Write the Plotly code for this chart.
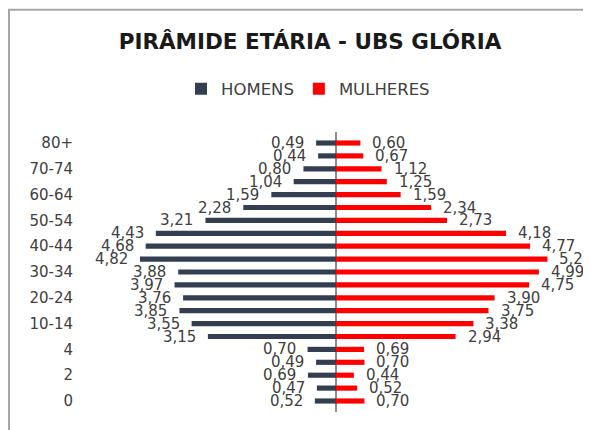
import plotly.graph_objects as go

categories = ["0", "1", "2", "3", "4", "5-9", "10-14", "15-19", "20-24", "25-29",
              "30-34", "35-39", "40-44", "45-49", "50-54", "55-59", "60-64",
              "65-69", "70-74", "75-79", "80+"]
homens = [0.52, 0.47, 0.69, 0.49, 0.70, 3.15, 3.55, 3.85, 3.76, 3.97,
          3.88, 4.82, 4.68, 4.43, 3.21, 2.28, 1.59, 1.04, 0.80, 0.44, 0.49]
mulheres = [0.70, 0.52, 0.44, 0.70, 0.69, 2.94, 3.38, 3.75, 3.90, 4.75,
            4.99, 5.20, 4.77, 4.18, 2.73, 2.34, 1.59, 1.25, 1.12, 0.67, 0.60]
tick_labels = categories[::2]

C_H = "#333F50"
C_M = "#FF0000"
FONT = "DejaVu Sans"

W, H = 591, 430
OFF = 8  # page body margin
L, R_EDGE = 81 - OFF, 591 - OFF
TOP, BOT = 131.7 - OFF, 411.7 - OFF


def fmt(v):
    return f"{v:.2f}".replace(".", ",")


fig = go.Figure()
fig.add_trace(go.Bar(y=categories, x=[-v for v in homens], orientation="h",
                     name="HOMENS", marker=dict(color=C_H, line=dict(width=0)),
                     hoverinfo="skip"))
fig.add_trace(go.Bar(y=categories, x=mulheres, orientation="h",
                     name="MULHERES", marker=dict(color=C_M, line=dict(width=0)),
                     hoverinfo="skip"))

annotations = []
for c, v in zip(categories, homens):
    annotations.append(dict(x=-v, y=c, xref="x", yref="y", text=fmt(v),
                            showarrow=False, xanchor="right", yanchor="middle",
                            xshift=-10, font=dict(family=FONT, size=15, color="#404040")))
for c, v in zip(categories, mulheres):
    annotations.append(dict(x=v, y=c, xref="x", yref="y", text=fmt(v),
                            showarrow=False, xanchor="left", yanchor="middle",
                            xshift=10, font=dict(family=FONT, size=15, color="#404040")))

pw = R_EDGE - L
ph = BOT - TOP

fig.update_layout(
    width=W, height=H,
    margin=dict(l=L, r=W - R_EDGE, t=TOP, b=H - BOT),
    paper_bgcolor="white", plot_bgcolor="white",
    barmode="relative", bargap=0.6,
    title=dict(text="<b>PIRÂMIDE ETÁRIA - UBS GLÓRIA</b>",
               font=dict(family=FONT, size=21.5, color="#1a1a1a"),
               x=(310 - OFF) / W, xref="container", xanchor="center",
               y=1 - (41.5 - OFF) / H, yref="container", yanchor="middle"),
    legend=dict(orientation="h", xref="container", yref="container",
                x=(308 - OFF) / W, xanchor="center", y=1 - (89 - OFF) / H, yanchor="middle",
                font=dict(family=FONT, size=16.5, color="#404040"),
                itemwidth=30, traceorder="normal"),
    xaxis=dict(range=[-6.27, 6.27], showticklabels=False, showgrid=False,
               zeroline=True, zerolinecolor="#8C8C8C", zerolinewidth=1.5,
               showline=False, fixedrange=True),
    yaxis=dict(type="category", categoryorder="array", categoryarray=categories,
               tickmode="array", tickvals=tick_labels, ticktext=tick_labels,
               showgrid=False, showline=False, zeroline=False,
               ticklabelstandoff=7,
               tickfont=dict(family=FONT, size=15, color="#404040")),
    annotations=annotations,
    shapes=[dict(type="rect", xref="paper", yref="paper",
                 x0=(0.5 + 8.5 - OFF - L) / pw - 0.0, x1=1.2,
                 y0=-0.3, y1=(BOT - (9.5 - OFF)) / ph,
                 line=dict(color="#A6A6A6", width=2), fillcolor="rgba(0,0,0,0)",
                 layer="below")],
)

fig.write_html("out.html")
